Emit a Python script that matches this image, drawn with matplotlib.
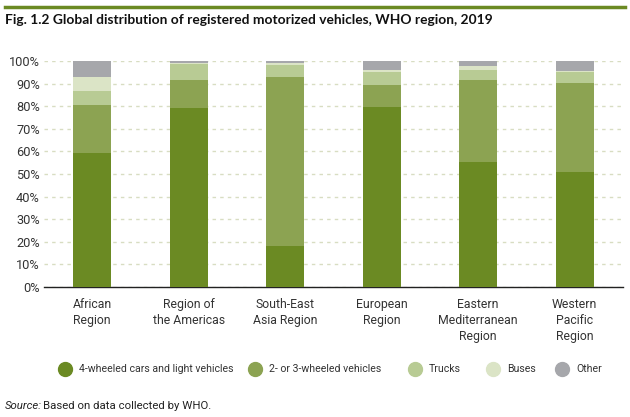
import matplotlib
matplotlib.use("Agg")
import matplotlib.pyplot as plt
from matplotlib.lines import Line2D
import numpy as np

regions = ["African\nRegion", "Region of\nthe Americas", "South-East\nAsia Region",
           "European\nRegion", "Eastern\nMediterranean\nRegion", "Western\nPacific\nRegion"]
series_names = ["4-wheeled cars and light vehicles", "2- or 3-wheeled vehicles",
                "Trucks", "Buses", "Other"]
cars = [59.2, 79.1, 18.3, 79.8, 55.2, 50.8]
two_three = [21.4, 12.7, 74.5, 9.6, 36.4, 39.3]
trucks = [6.3, 6.7, 5.4, 5.9, 4.4, 5.2]
buses = [6.2, 0.7, 1.1, 0.5, 1.9, 0.3]
other = [6.9, 0.8, 0.7, 4.2, 2.1, 4.4]
yticks = [0, 10, 20, 30, 40, 50, 60, 70, 80, 90, 100]

colors = ["#6B8A23", "#8CA352", "#B8CB94", "#DBE4C6", "#A6A7AB"]
cond = ["Roboto", "DejaVu Sans"]

fig = plt.figure(figsize=(6.3, 4.17), dpi=100)
ax = fig.add_axes([44/630, 1-287/417, 579/630, 226/417])

x = np.arange(len(regions))
bottom = np.zeros(len(regions))
for vals, col, name in zip([cars, two_three, trucks, buses, other], colors, series_names):
    ax.bar(x, vals, width=0.39, bottom=bottom, color=col, label=name, zorder=3)
    bottom += np.array(vals)

ax.set_xlim(-0.5, len(regions)-0.5)
ax.set_ylim(0, 100)
ax.set_yticks(yticks)
ax.set_yticklabels([f"{v}%" for v in yticks], fontfamily=cond, fontsize=9.2, color="#333333")
ax.set_xticks(x)
ax.set_xticklabels(regions, fontfamily=cond, fontsize=8.8, color="#333333", linespacing=1.3)
ax.tick_params(axis="x", length=0, pad=8)
ax.tick_params(axis="y", length=0, pad=3)
for s in ["top", "right", "left"]:
    ax.spines[s].set_visible(False)
ax.spines["bottom"].set_color("#222222")
ax.spines["bottom"].set_linewidth(1.0)
ax.yaxis.grid(True, linestyle=(0, (2.5, 3)), color="#D8DDC2", linewidth=1.0, zorder=0)
ax.set_axisbelow(True)

# top green line
fig.add_artist(Line2D([5/630, 625/630], [1-7/417, 1-7/417], color="#6B8A23", linewidth=2.5))
fig.text(5/630, 1-20/417, "Fig. 1.2 Global distribution of registered motorized vehicles, WHO region, 2019",
         fontsize=9.9, fontweight="bold", fontfamily=["Lato", "DejaVu Sans"], va="center", ha="left", color="#111111")

# legend
leg_y = 1-369/417
circle_x = [65, 255, 415, 493, 562]
for cx, col, name in zip(circle_x, colors, series_names):
    fig.add_artist(Line2D([cx/630], [leg_y], marker="o", markersize=10, color=col, linestyle="none"))
    fig.text((cx+14)/630, leg_y, name, fontsize=7.6, fontfamily=cond, va="center", ha="left", color="#333333")

fig.text(5/630, 1-406/417, "Source:", fontsize=8.2, style="italic", fontfamily=cond, va="center", color="#222222")
fig.text(43/630, 1-406/417, "Based on data collected by WHO.", fontsize=8.2, fontfamily=cond, va="center", color="#222222")

fig.savefig("out.png", dpi=100)
